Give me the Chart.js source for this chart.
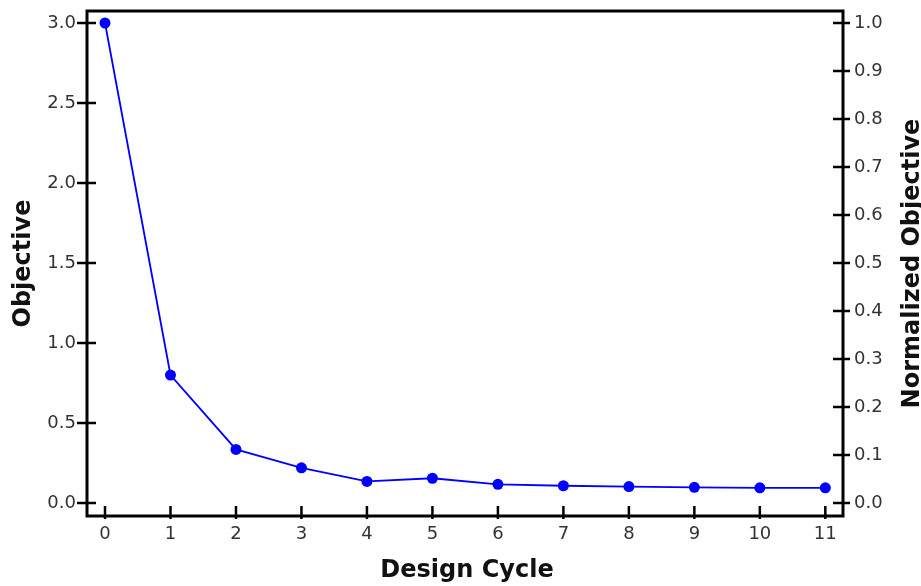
<!DOCTYPE html>
<html>
<head>
<meta charset="utf-8">
<script src="https://cdn.jsdelivr.net/npm/chart.js@4"></script>
<style>
  body { margin: 0; background: #fff; }
  #wrap { width: 921px; height: 586px; }
</style>
</head>
<body>
<div id="wrap"><canvas id="chart"></canvas></div>
<script>
// values
const cycles = [0, 1, 2, 3, 4, 5, 6, 7, 8, 9, 10, 11];
const objective = [3.0, 0.80, 0.335, 0.22, 0.135, 0.155, 0.117, 0.108, 0.103, 0.098, 0.095, 0.095];
const objTicks = [0, 0.5, 1.0, 1.5, 2.0, 2.5, 3.0];
const normTicks = [0, 0.1, 0.2, 0.3, 0.4, 0.5, 0.6, 0.7, 0.8, 0.9, 1.0];

const FONT = 'DejaVu Sans';
const tickFont = { family: FONT, size: 18 };

// frame, crossing tick marks and axis titles
const framePlugin = {
  id: 'frame',
  afterDraw(chart) {
    const { ctx, chartArea: a, scales } = chart;
    ctx.save();
    ctx.strokeStyle = '#000';
    ctx.lineWidth = 2.5;
    ctx.beginPath();
    scales.x.ticks.forEach(t => {
      const px = scales.x.getPixelForValue(t.value);
      ctx.moveTo(px, a.bottom - 10);
      ctx.lineTo(px, a.bottom + 3);
    });
    scales.y.ticks.forEach(t => {
      const py = scales.y.getPixelForValue(t.value);
      ctx.moveTo(a.left - 10, py);
      ctx.lineTo(a.left + 9, py);
    });
    scales.y2.ticks.forEach(t => {
      const py = scales.y2.getPixelForValue(t.value);
      ctx.moveTo(a.right - 10, py);
      ctx.lineTo(a.right + 7, py);
    });
    ctx.stroke();

    ctx.lineWidth = 3;
    ctx.strokeRect(a.left, a.top, a.right - a.left, a.bottom - a.top);

    const midY = (a.top + a.bottom) / 2;
    ctx.fillStyle = '#111';
    ctx.font = 'bold 24px ' + FONT;
    ctx.textAlign = 'center';
    ctx.textBaseline = 'alphabetic';
    ctx.fillText('Design Cycle', (a.left + a.right) / 2 + 2, 577);

    ctx.save();
    ctx.translate(30, midY);
    ctx.rotate(-Math.PI / 2);
    ctx.fillText('Objective', 0, 0);
    ctx.restore();

    ctx.translate(919, midY);
    ctx.rotate(-Math.PI / 2);
    ctx.fillText('Normalized Objective', 0, 0);
    ctx.restore();
  }
};

new Chart(document.getElementById('chart'), {
  type: 'line',
  data: {
    datasets: [{
      data: cycles.map((c, i) => ({ x: c, y: objective[i] })),
      borderColor: '#0000ff',
      backgroundColor: '#0000ff',
      borderWidth: 1.8,
      pointRadius: 5.5,
      pointBorderWidth: 0,
      tension: 0,
      yAxisID: 'y'
    }]
  },
  options: {
    responsive: true,
    maintainAspectRatio: false,
    animation: false,
    layout: { padding: { top: 0, left: 0, right: 0, bottom: 0 } },
    plugins: {
      legend: { display: false },
      tooltip: { enabled: false }
    },
    scales: {
      x: {
        type: 'linear',
        min: -0.275,
        max: 11.27,
        afterFit: s => { s.height = 70; },
        afterBuildTicks: s => { s.ticks = cycles.map(v => ({ value: v })); },
        grid: { drawOnChartArea: false, color: 'transparent', tickLength: 3 },
        border: { display: false },
        ticks: { font: tickFont, color: '#333', padding: 5, maxRotation: 0, callback: v => String(v) }
      },
      y: {
        position: 'left',
        min: -0.081,
        max: 3.075,
        afterFit: s => { s.width = 87; s.paddingTop = 11; },
        afterBuildTicks: s => { s.ticks = objTicks.map(v => ({ value: v })); },
        grid: { drawOnChartArea: false, color: 'transparent', tickLength: 8 },
        border: { display: false },
        ticks: { font: tickFont, color: '#333', padding: 3, callback: v => v.toFixed(1) }
      },
      y2: {
        position: 'right',
        min: -0.081 / 3,
        max: 3.075 / 3,
        afterFit: s => { s.width = 78; s.paddingTop = 11; },
        afterBuildTicks: s => { s.ticks = normTicks.map(v => ({ value: v })); },
        grid: { drawOnChartArea: false, color: 'transparent', tickLength: 7 },
        border: { display: false },
        ticks: { font: tickFont, color: '#333', padding: 4, callback: v => v.toFixed(1) }
      }
    }
  },
  plugins: [framePlugin]
});
</script>
</body>
</html>
